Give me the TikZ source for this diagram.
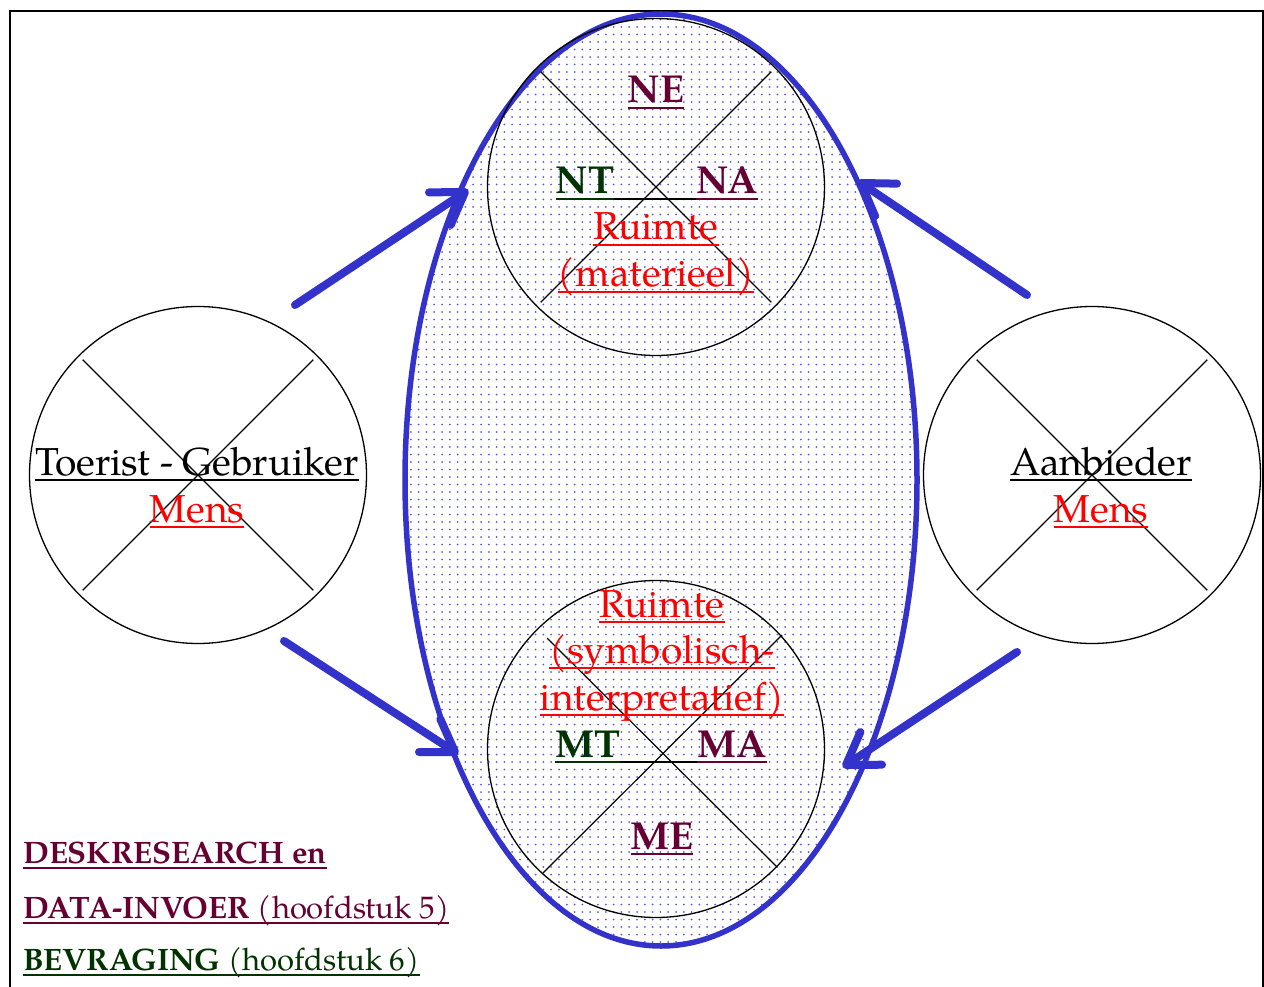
\documentclass[tikz,border=0pt]{standalone}
\usepackage{fontspec}
\setmainfont{TeX Gyre Pagella}
\usetikzlibrary{shapes.geometric,calc}

\definecolor{blauw}{RGB}{51,51,204}
\definecolor{stip}{RGB}{90,90,225}
\definecolor{paars}{RGB}{102,0,51}
\definecolor{groen}{RGB}{0,51,0}
\definecolor{rood}{RGB}{255,0,0}

% text in a colour, underlined with a rule of the same colour
\newcommand\ulc[2]{{\color{#1}\setbox0\hbox{#2}\rlap{\rule[-6pt]{\wd0}{2pt}}\box0}}
\newcommand\ulcs[2]{{\color{#1}\setbox0\hbox{#2}\rlap{\rule[-5.5pt]{\wd0}{1.8pt}}\box0}}

% thick arrow with an open, round-capped head: #1 tail, #2 tip
\newcommand\pijl[2]{%
  \draw[pijlschacht] (#1) -- ($(#2)!4pt!(#1)$);
  \draw[pijlschacht] ($(#2)!36pt!33:(#1)$) -- (#2) -- ($(#2)!36pt!-33:(#1)$);}

\tikzset{
  tekst/.style={font=\fontsize{39}{47}\selectfont, inner sep=0pt, anchor=base},
  legenda/.style={font=\fontsize{31}{37}\selectfont, inner sep=0pt, anchor=base west},
  rondje/.style={circle, draw=black, line width=1.3pt, inner sep=0pt, minimum size=337pt},
  kruis/.style={draw=black, line width=1.2pt, shorten <=6pt, shorten >=6pt},
  pijlschacht/.style={draw=blauw, line width=8pt, line cap=round, line join=round},
}

\begin{document}
\begin{tikzpicture}[x=1pt,y=-1pt]
\useasboundingbox (0,0) rectangle (1264,987);
% open frame
\draw[line width=2pt] (9.5,995) -- (9.5,11) -- (1263,11) -- (1263,995);

% dotted field: a grid of dots, one row per path
\node[ellipse, minimum width=512pt, minimum height=932pt, inner sep=0pt]
      (veld) at (661,480) {};
\begin{scope}
  \clip (661,480) ellipse [x radius=256, y radius=466];
  \foreach \j in {0,...,124} {
    \fill[stip] \foreach \i in {0,...,66}
      {(403+\i*7.8, 12+\j*7.5) circle [radius=1pt]};
  }
\end{scope}
\draw[blauw, line width=5.5pt] (661,480) ellipse [x radius=256, y radius=466];

% circles with crosses
\node[rondje] (boven) at (656,187) {};
\node[rondje] (onder) at (656,749) {};
\node[rondje] (links) at (198,475) {};
\node[rondje] (rechts) at (1092,475) {};

\draw[kruis] (boven.135) -- (boven.-45);
\draw[kruis] (boven.45) -- (boven.-135);
\draw[line width=1.2pt] ($(onder)+(-109,-111)$) -- ($(onder)+(121,118)$);
\draw[line width=1.2pt] ($(onder)+(126,-114)$) -- ($(onder)+(-113,124)$);
\draw[kruis] (links.135) -- (links.-45);
\draw[kruis] (links.45) -- (links.-135);
\draw[kruis] (rechts.135) -- (rechts.-45);
\draw[kruis] (rechts.45) -- (rechts.-135);

% arrows
\coordinate (a1s) at (295,305);  \coordinate (a1e) at (465,192);
\coordinate (a2s) at (284,641);  \coordinate (a2e) at (455,752);
\coordinate (a3s) at (1027,295); \coordinate (a3e) at (861,183);
\coordinate (a4s) at (1017,652); \coordinate (a4e) at (846,765);
\pijl{a1s}{a1e}
\pijl{a2s}{a2e}
\pijl{a3s}{a3e}
\pijl{a4s}{a4e}

% labels: top circle
\node[tekst] (ne) at (656,103) {\ulc{paars}{\textbf{NE}}};
\node[tekst] (ntna) at (657,194) {\ulc{groen}{\textbf{NT}}\ulc{black}{\hspace{82pt}}\ulc{paars}{\textbf{NA}}};
\node[tekst] (r1) at (656,240) {\ulc{rood}{Ruimte}};
\node[tekst] (r2) at (656,287) {\ulc{rood}{(materieel)}};

% labels: bottom circle
\node[tekst] (r3) at (662,617) {\ulc{rood}{Ruimte}};
\node[tekst] (r4) at (662,663) {\ulc{rood}{(symbolisch-}};
\node[tekst] (r5) at (662,710) {\ulc{rood}{interpretatief)}};
\node[tekst] (mtma) at (661,757) {\ulc{groen}{\textbf{MT}}\ulc{black}{\hspace{77pt}}\ulc{paars}{\textbf{MA}}};
\node[tekst] (me) at (662,849) {\ulc{paars}{\textbf{ME}}};

% labels: side circles
\node[tekst] (toerist) at (197,475) {\ulc{black}{Toerist - Gebruiker}};
\node[tekst] (mens1) at (197,522) {\ulc{rood}{Mens}};
\node[tekst] (aanb) at (1101,475) {\ulc{black}{Aanbieder}};
\node[tekst] (mens2) at (1101,522) {\ulc{rood}{Mens}};

% legend
\node[legenda] (l1) at (23,863) {\ulcs{paars}{\textbf{DESKRESEARCH en}}};
\node[legenda] (l2) at (23,918) {\ulcs{paars}{\textbf{DATA-INVOER} (hoofdstuk 5)}};
\node[legenda] (l3) at (23,970) {\ulcs{groen}{\textbf{BEVRAGING} (hoofdstuk 6)}};
\end{tikzpicture}
\end{document}
